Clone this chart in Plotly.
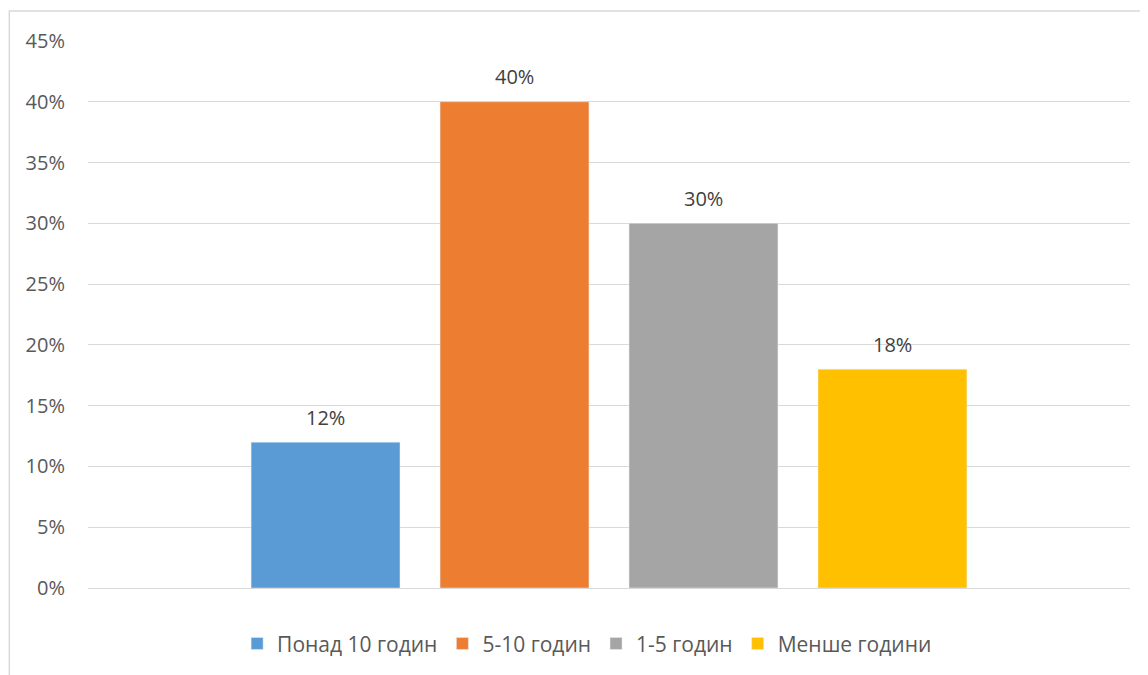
import plotly.graph_objects as go

# Excel-style column chart: four series, one bar each
SERIES = ["Понад 10 годин", "5-10 годин", "1-5 годин", "Менше години"]
VALUES = [0.12, 0.40, 0.30, 0.18]
COLORS = ["#5b9bd5", "#ed7d31", "#a5a5a5", "#ffc000"]
Y_TICKS = [0, 0.05, 0.10, 0.15, 0.20, 0.25, 0.30, 0.35, 0.40, 0.45]

FONT = "Open Sans, Noto Sans, sans-serif"
TEXT_COLOR = "#595959"
GRID_COLOR = "#d9d9d9"
BAR_WIDTH = 0.788

fig = go.Figure()
for i, (name, val, color) in enumerate(zip(SERIES, VALUES, COLORS)):
    fig.add_trace(
        go.Bar(
            name=name,
            x=[i],
            y=[val],
            width=BAR_WIDTH,
            marker_color=color,
            hoverinfo="skip",
        )
    )
    # data label, floated above the bar like Excel does
    fig.add_annotation(
        x=i, y=val, xref="x", yref="y",
        text=f"{val:.0%}",
        showarrow=False,
        yshift=25,
        font=dict(size=20, color="#404040", family=FONT),
    )

fig.update_layout(
    width=1140,
    height=667,
    barmode="overlay",
    plot_bgcolor="white",
    paper_bgcolor="white",
    font=dict(family=FONT, size=20, color=TEXT_COLOR),
    margin=dict(l=80, r=18, t=33, b=86),
    showlegend=True,
    legend=dict(
        orientation="h",
        xanchor="center",
        x=0.479,
        yanchor="middle",
        y=-0.1,
        font=dict(size=21, color=TEXT_COLOR),
        itemwidth=30,
        traceorder="normal",
    ),
)
fig.update_xaxes(
    range=[-1.257, 4.257],
    showticklabels=False, showgrid=False, showline=False, zeroline=False,
)
fig.update_yaxes(
    range=[0, 0.45],
    tickvals=Y_TICKS,
    tickformat=".0%",
    showgrid=True,
    gridcolor=GRID_COLOR,
    gridwidth=1,
    zeroline=True,
    zerolinecolor=GRID_COLOR,
    zerolinewidth=1,
    showline=False,
    ticks="",
    ticklabelstandoff=22,
    tickfont=dict(size=20, color=TEXT_COLOR),
)

# chart-area border (partially cropped in the original)
fig.add_shape(
    type="rect", xref="paper", yref="paper",
    x0=-0.0755, x1=1.05, y0=-0.3, y1=1.0547,
    line=dict(color=GRID_COLOR, width=1.5),
    layer="below",
)

fig.write_html("out.html")
